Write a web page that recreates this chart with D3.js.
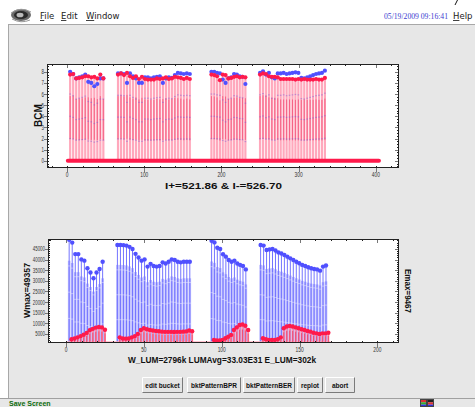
<!DOCTYPE html>
<html><head><meta charset="utf-8">
<script src="https://cdn.jsdelivr.net/npm/d3@7"></script>
<style>
html,body{margin:0;padding:0;background:#fff;overflow:hidden;}
svg{display:block;}
</style></head><body>
<svg id="c" width="475" height="407"></svg>
<script>
// ---- bunch trains: first and last bunch index of each train ----
const trainSpan = [[2, 23.5], [33, 79.5], [93.5, 115.5], [125, 167]];
const bucketPerBunch = 2;          // bucket number = bunch index * 2
const eastShift = 1.5;             // E readings plotted slightly right of W

// BCM per bunch (blue = I+, red = I-)
const bcmBlue = [
  [8.0, 7.8, 7.4, 7.5, 7.6, 7.75, 7.1, 7.0, 6.7, 6.9, 7.4, 7.4],
  [7.85, 7.85, 7.8, 7.0, 7.85, 7.6, 7.4, 7.0, 7.0, 7.5, 7.5, 7.4, 7.5, 7.55, 7.6, 7.0, 7.4, 7.5, 7.45, 7.7, 7.9, 7.85, 7.8, 7.85, 7.8],
  [8.0, 8.0, 7.9, 7.85, 7.3, 7.0, 7.4, 7.5, 7.8, 7.75, 7.6, 7.55, 6.9],
  [7.9, 8.05, 7.75, 7.9, 7.5, 7.4, 7.85, 7.85, 7.9, 7.8, 7.85, 7.9, 7.95, 7.9, 7.45, 7.4, 7.5, 7.6, 7.7, 7.8, 7.85, 7.9, 8.1]
];
const bcmRed = [
  [7.75, 7.8, 7.4, 7.45, 7.5, 7.6, 7.6, 7.5, 7.55, 7.4, 7.75, 7.4],
  [7.75, 7.85, 7.7, 7.9, 7.6, 7.45, 7.6, 7.35, 7.55, 7.35, 7.3, 7.3, 7.3, 7.4, 7.35, 7.4, 7.5, 7.35, 7.4, 7.55, 7.5, 7.45, 7.35, 7.45, 7.35],
  [7.75, 7.7, 7.6, 7.25, 7.75, 7.7, 7.4, 7.45, 7.55, 7.6, 7.5, 7.55, 7.5],
  [7.75, 7.85, 7.8, 7.6, 7.55, 7.55, 7.5, 7.35, 7.35, 7.35, 7.35, 7.35, 7.3, 7.35, 7.3, 7.35, 7.3, 7.3, 7.3, 7.35, 7.3, 7.3, 7.45]
];
// luminosity per bunch (W = blue, E = red)
const wLum = [
  [49357, 48000, 42600, 42600, 40100, 39500, 35900, 33900, 31200, 33900, 35600, 39000],
  [46900, 46900, 46800, 46600, 46000, 45000, 42700, 41000, 39500, 40100, 36700, 38000, 37000, 36700, 37000, 38700, 38200, 39000, 40100, 39800, 39000, 38700, 39000, 39000, 39000],
  [48900, 48100, 45600, 45000, 42500, 41400, 39800, 39000, 39500, 38200, 37500, 37000, 35400],
  [46900, 46600, 44500, 44800, 45000, 44300, 43400, 42900, 42200, 41400, 40600, 39800, 39000, 38300, 37500, 37000, 36400, 35900, 35600, 35400, 34800, 36700, 37200]
];
const eLum = [
  [2500, 2900, 3400, 4000, 4600, 5500, 6800, 7400, 8000, 8300, 8100, 7000],
  [3400, 2900, 2800, 2900, 3400, 4000, 5000, 6900, 7700, 7200, 6900, 6600, 6400, 6300, 6100, 6000, 6000, 6000, 5900, 6000, 6000, 6100, 6200, 6600, 6300],
  [2200, 1900, 1900, 2200, 3000, 3700, 4500, 6900, 8100, 9200, 9467, 8900, 6900],
  [3000, 2500, 2200, 2200, 2200, 2500, 3400, 7700, 8500, 8800, 8500, 8100, 7700, 7200, 6900, 6400, 6100, 5600, 5300, 5000, 5300, 5300, 5600]
];
const emptyBuckets = [1, 404];     // zero-reading buckets along the BCM baseline
const bunchBaseline = [0, 170];

// ---- axis ticks and labels ----
const bucketTicks = [0, 100, 200, 300, 400];
const bcmTicks = [0, 1, 2, 3, 4, 5, 6, 7, 8];
const bunchTicks = [0, 50, 100, 150, 200];
const lumTicks = [5000, 10000, 15000, 20000, 25000, 30000, 35000, 40000, 45000];
const stepMarks = [0.25, 0.5, 0.75];

const bcmTitle = "I+=521.86  &  I-=526.70";
const lumTitle = "W_LUM=2796k  LUMAvg=33.03E31  E_LUM=302k";
const buttons = ["edit bucket", "bktPatternBPR", "bktPatternBER", "replot", "abort"];

const BLUE = "#5050ff", RED = "#ff1a4b";

const svg = d3.select("#c");

// ---- window chrome ----
svg.append("rect").attr("x", 8).attr("y", 24).attr("width", 470).attr("height", 374).attr("fill", "#e7e7e7");
svg.append("line").attr("x1", 8).attr("x2", 475).attr("y1", 24.5).attr("y2", 24.5).attr("stroke", "#a8a8a8");
svg.append("line").attr("x1", 8.5).attr("x2", 8.5).attr("y1", 24).attr("y2", 398).attr("stroke", "#a8a8a8");
svg.append("rect").attr("x", 0).attr("y", 398).attr("width", 475).attr("height", 9).attr("fill", "#e7e7e7");
svg.append("line").attr("x1", 0).attr("x2", 475).attr("y1", 398.5).attr("y2", 398.5).attr("stroke", "#a0a0a0");
svg.append("line").attr("x1", 455).attr("x2", 457.5).attr("y1", 5).attr("y2", 0).attr("stroke", "#111");

// app icon
const icon = svg.append("g").attr("transform", "translate(21,15)");
icon.append("ellipse").attr("rx", 10).attr("ry", 6).attr("fill", "#6a6a6a");
icon.append("ellipse").attr("rx", 7).attr("ry", 4).attr("fill", "#2a2a2a");
icon.append("ellipse").attr("cx", -1).attr("rx", 3.5).attr("ry", 2.3).attr("fill", "#bbb");
icon.append("path").attr("d", "M-10,-2 Q0,-9 10,-3").attr("fill", "none").attr("stroke", "#999").attr("stroke-width", 1);
icon.append("path").attr("d", "M-9,4 Q0,9 9,5").attr("fill", "none").attr("stroke", "#999").attr("stroke-width", 1);

// menu
const menuFont = "'DejaVu Sans', sans-serif";
[["File", 40], ["Edit", 61], ["Window", 86], ["Help", 453]].forEach(([w, x]) => {
  const t = svg.append("text").attr("x", x).attr("y", 19).attr("font-family", menuFont)
    .attr("font-size", 8.5).attr("fill", "#222");
  t.append("tspan").attr("text-decoration", "underline").text(w[0]);
  t.append("tspan").text(w.slice(1));
});
svg.append("text").attr("x", 384).attr("y", 18.5).attr("font-family", "'Liberation Serif', serif")
  .attr("font-size", 7.5).attr("fill", "#3a3ad0").attr("textLength", 64).attr("lengthAdjust", "spacingAndGlyphs")
  .text("05/19/2009 09:16:41");

// ---- bunch records ----
const bunches = [];
trainSpan.forEach(([a, b], t) => {
  const n = wLum[t].length;
  for (let i = 0; i < n; i++) {
    const idx = a + (b - a) * i / (n - 1);
    bunches.push({ idx, bucket: idx * bucketPerBunch, bB: bcmBlue[t][i], bR: bcmRed[t][i], w: wLum[t][i], e: eLum[t][i] });
  }
});

// ---- axes helper ----
function drawAxes(g, x, y, xt, yt, xMinor, yMinor, labelBase) {
  const [L, R] = x.range(), [B, T] = y.range();
  const [dx0, dx1] = x.domain(), [dy0, dy1] = y.domain();
  const tk = g.append("g").attr("stroke", "#222").attr("stroke-width", 1).attr("shape-rendering", "crispEdges");
  const px = v => Math.round(x(v)) + 0.5, py = v => Math.round(y(v)) + 0.5;
  d3.range(Math.ceil(dx0 / xMinor) * xMinor, dx1, xMinor).forEach(v => {
    tk.append("line").attr("x1", px(v)).attr("x2", px(v)).attr("y1", B).attr("y2", B - 2);
    tk.append("line").attr("x1", px(v)).attr("x2", px(v)).attr("y1", T).attr("y2", T + 2);
  });
  d3.range(Math.ceil(dy0 / yMinor) * yMinor, dy1, yMinor).forEach(v => {
    tk.append("line").attr("x1", L).attr("x2", L + 2).attr("y1", py(v)).attr("y2", py(v));
    tk.append("line").attr("x1", R).attr("x2", R - 2).attr("y1", py(v)).attr("y2", py(v));
  });
  const mj = g.append("g").attr("stroke", "#777").attr("stroke-width", 1).attr("shape-rendering", "crispEdges");
  xt.forEach(v => {
    mj.append("line").attr("x1", px(v)).attr("x2", px(v)).attr("y1", B).attr("y2", B + 4);
    mj.append("line").attr("x1", px(v)).attr("x2", px(v)).attr("y1", T).attr("y2", T + 4);
  });
  yt.forEach(v => {
    mj.append("line").attr("x1", L - 3).attr("x2", L + 1).attr("y1", py(v)).attr("y2", py(v));
    mj.append("line").attr("x1", R - 4).attr("x2", R).attr("y1", py(v)).attr("y2", py(v));
  });
  g.append("rect").attr("x", L + 0.5).attr("y", T + 0.5).attr("width", R - L - 1).attr("height", B - T - 1)
    .attr("fill", "none").attr("stroke", "#222").attr("shape-rendering", "crispEdges");
  const lab = g.append("g").attr("font-family", "'Liberation Sans', sans-serif").attr("font-size", 7).attr("fill", "#333");
  xt.forEach(v => {
    const s = String(v);
    lab.append("text").attr("x", x(v)).attr("y", B + labelBase).attr("text-anchor", "middle")
      .attr("textLength", s.length * 2.7).attr("lengthAdjust", "spacingAndGlyphs").text(s);
  });
  yt.forEach(v => {
    const s = String(v);
    lab.append("text").attr("x", L - 3).attr("y", y(v) + 2.5).attr("text-anchor", "end")
      .attr("textLength", s.length * 2.45).attr("lengthAdjust", "spacingAndGlyphs").text(s);
  });
}

function plotBox(x, y, id) {
  const [L, R] = x.range(), [B, T] = y.range();
  svg.append("rect").attr("x", L).attr("y", T).attr("width", R - L).attr("height", B - T).attr("fill", "#fff");
  svg.append("clipPath").attr("id", id).append("rect").attr("x", L + 1).attr("y", T + 1).attr("width", R - L - 2).attr("height", B - T - 2);
  return svg.append("g").attr("clip-path", `url(#${id})`);
}

// ---- BCM chart ----
const xTop = d3.scaleLinear().domain([-26, 430]).range([47, 399]);
const yTop = d3.scaleLinear().domain([-0.65, 8.7]).range([168, 64]);
const gt = plotBox(xTop, yTop, "clipTop");

gt.selectAll(".stemP").data(bunches).join("line")
  .attr("x1", d => xTop(d.bucket)).attr("x2", d => xTop(d.bucket))
  .attr("y1", yTop(0)).attr("y2", d => yTop(d.bR)).attr("stroke", "#ffa8bc").attr("stroke-width", 2.2);
gt.selectAll(".stemR").data(bunches).join("line")
  .attr("x1", d => xTop(d.bucket)).attr("x2", d => xTop(d.bucket))
  .attr("y1", d => yTop(d.bR * stepMarks[0])).attr("y2", d => yTop(d.bR * stepMarks[2]))
  .attr("stroke", "#ee2a58").attr("stroke-width", 1).attr("opacity", 0.55);
stepMarks.forEach(f => {
  gt.selectAll(null).data(bunches).join("rect")
    .attr("x", d => xTop(d.bucket) - 0.8).attr("y", d => yTop(d.bB * f) - 0.6)
    .attr("width", 1.6).attr("height", 1.2).attr("fill", "#7a5bd8").attr("opacity", 0.45);
});
gt.append("line").attr("x1", xTop(emptyBuckets[0])).attr("x2", xTop(emptyBuckets[1]))
  .attr("y1", yTop(0)).attr("y2", yTop(0)).attr("stroke", RED).attr("stroke-width", 4).attr("stroke-linecap", "round");
gt.selectAll(".dB").data(bunches).join("circle")
  .attr("cx", d => xTop(d.bucket)).attr("cy", d => yTop(d.bB)).attr("r", 2.1).attr("fill", BLUE);
gt.selectAll(".dR").data(bunches).join("circle")
  .attr("cx", d => xTop(d.bucket)).attr("cy", d => yTop(d.bR)).attr("r", 2.1).attr("fill", RED);
drawAxes(svg.append("g"), xTop, yTop, bucketTicks, bcmTicks, 20, 0.25, 9);

svg.append("text").attr("transform", "translate(41.5,115.5) rotate(-90)").attr("text-anchor", "middle")
  .attr("font-family", "'Liberation Sans', sans-serif").attr("font-weight", "bold").attr("font-size", 10)
  .attr("fill", "#111").text("BCM");
svg.append("text").attr("x", 223.5).attr("y", 189).attr("text-anchor", "middle")
  .attr("font-family", "'Liberation Sans', sans-serif").attr("font-weight", "bold").attr("font-size", 9)
  .attr("fill", "#111").attr("textLength", 117).attr("lengthAdjust", "spacingAndGlyphs").text(bcmTitle);

// ---- luminosity chart ----
const xBot = d3.scaleLinear().domain([-11.6, 213.9]).range([48, 399]);
const yBot = d3.scaleLinear().domain([750, 49700]).range([343, 239]);
const gb = plotBox(xBot, yBot, "clipBot");
const base = yBot.domain()[0];

gb.selectAll(".wWide").data(bunches).join("line")
  .attr("x1", d => xBot(d.idx)).attr("x2", d => xBot(d.idx))
  .attr("y1", yBot(base)).attr("y2", d => yBot(d.w * 0.8)).attr("stroke", "#b8b8ff").attr("stroke-width", 2.6);
gb.selectAll(".wThin").data(bunches).join("line")
  .attr("x1", d => xBot(d.idx)).attr("x2", d => xBot(d.idx))
  .attr("y1", yBot(base)).attr("y2", d => yBot(d.w)).attr("stroke", "#7474ff").attr("stroke-width", 1);
stepMarks.forEach(f => {
  gb.selectAll(null).data(bunches).join("rect")
    .attr("x", d => xBot(d.idx) - 1.3).attr("y", d => yBot(d.w * f) - 0.5)
    .attr("width", 2.6).attr("height", 1).attr("fill", "#ffffff").attr("opacity", 0.4);
});
gb.append("line").attr("x1", xBot(bunchBaseline[0])).attr("x2", xBot(bunchBaseline[1]))
  .attr("y1", yBot(base) - 1).attr("y2", yBot(base) - 1).attr("stroke", "#ffb0c0").attr("stroke-width", 1.5);
gb.selectAll(".eStem").data(bunches).join("line")
  .attr("x1", d => xBot(d.idx + eastShift)).attr("x2", d => xBot(d.idx + eastShift))
  .attr("y1", yBot(base)).attr("y2", d => yBot(d.e)).attr("stroke", "#ff8fa8").attr("stroke-width", 2);
gb.selectAll(".eThin").data(bunches).join("line")
  .attr("x1", d => xBot(d.idx + eastShift)).attr("x2", d => xBot(d.idx + eastShift))
  .attr("y1", yBot(base)).attr("y2", d => yBot(d.e * stepMarks[2])).attr("stroke", "#e8204f").attr("stroke-width", 1).attr("opacity", 0.6);
gb.selectAll(".wDot").data(bunches).join("circle")
  .attr("cx", d => xBot(d.idx)).attr("cy", d => yBot(d.w)).attr("r", 2.2).attr("fill", BLUE);
gb.selectAll(".eDot").data(bunches).join("circle")
  .attr("cx", d => xBot(d.idx + eastShift)).attr("cy", d => yBot(d.e)).attr("r", 2.2).attr("fill", RED);
drawAxes(svg.append("g"), xBot, yBot, bunchTicks, lumTicks, 10, 1000, 9);

svg.append("text").attr("transform", "translate(29.5,290.5) rotate(-90)").attr("text-anchor", "middle")
  .attr("font-family", "'Liberation Sans', sans-serif").attr("font-weight", "bold").attr("font-size", 9)
  .attr("fill", "#111").attr("textLength", 55).attr("lengthAdjust", "spacingAndGlyphs").text("Wmax=" + d3.max(wLum.flat()));
svg.append("text").attr("transform", "translate(404.5,291) rotate(90)").attr("text-anchor", "middle")
  .attr("font-family", "'Liberation Sans', sans-serif").attr("font-weight", "bold").attr("font-size", 9)
  .attr("fill", "#111").attr("textLength", 44).attr("lengthAdjust", "spacingAndGlyphs").text("Emax=" + d3.max(eLum.flat()));
svg.append("text").attr("x", 222).attr("y", 363).attr("text-anchor", "middle")
  .attr("font-family", "'Liberation Sans', sans-serif").attr("font-weight", "bold").attr("font-size", 9)
  .attr("fill", "#111").attr("textLength", 188).attr("lengthAdjust", "spacingAndGlyphs").text(lumTitle);

// ---- buttons ----
const btnX = [142, 187, 243, 297, 325], btnW = [41, 54, 52, 26, 30];
buttons.forEach((label, i) => {
  const g = svg.append("g").attr("transform", `translate(${btnX[i]},377)`);
  g.append("rect").attr("width", btnW[i]).attr("height", 16).attr("fill", "#e4e4e4");
  g.append("path").attr("d", `M0.5,15.5 V0.5 H${btnW[i] - 0.5}`).attr("fill", "none").attr("stroke", "#fff");
  g.append("path").attr("d", `M0.5,15.5 H${btnW[i] - 0.5} V0.5`).attr("fill", "none").attr("stroke", "#7a7a7a");
  g.append("text").attr("x", btnW[i] / 2).attr("y", 10.5).attr("text-anchor", "middle")
    .attr("font-family", "'Liberation Sans', sans-serif").attr("font-weight", "bold").attr("font-size", 6.5)
    .attr("fill", "#111").text(label);
});

// ---- status bar ----
svg.append("text").attr("x", 9).attr("y", 405.5).attr("font-family", "'Liberation Sans', sans-serif")
  .attr("font-weight", "bold").attr("font-size", 7).attr("fill", "#0b6b0b").text("Save Screen");
[[420, ["#d33", "#3a3", "#33d"]], [427, ["#222", "#d33", "#33d"]]].forEach(([x, cols]) => {
  cols.forEach((c, k) => svg.append("rect").attr("x", x).attr("y", 400 + k * 2.3).attr("width", 6).attr("height", 2.3).attr("fill", c));
  svg.append("rect").attr("x", x + 0.5).attr("y", 399.5).attr("width", 6).attr("height", 7).attr("fill", "none").attr("stroke", "#444");
});
</script>
</body></html>
